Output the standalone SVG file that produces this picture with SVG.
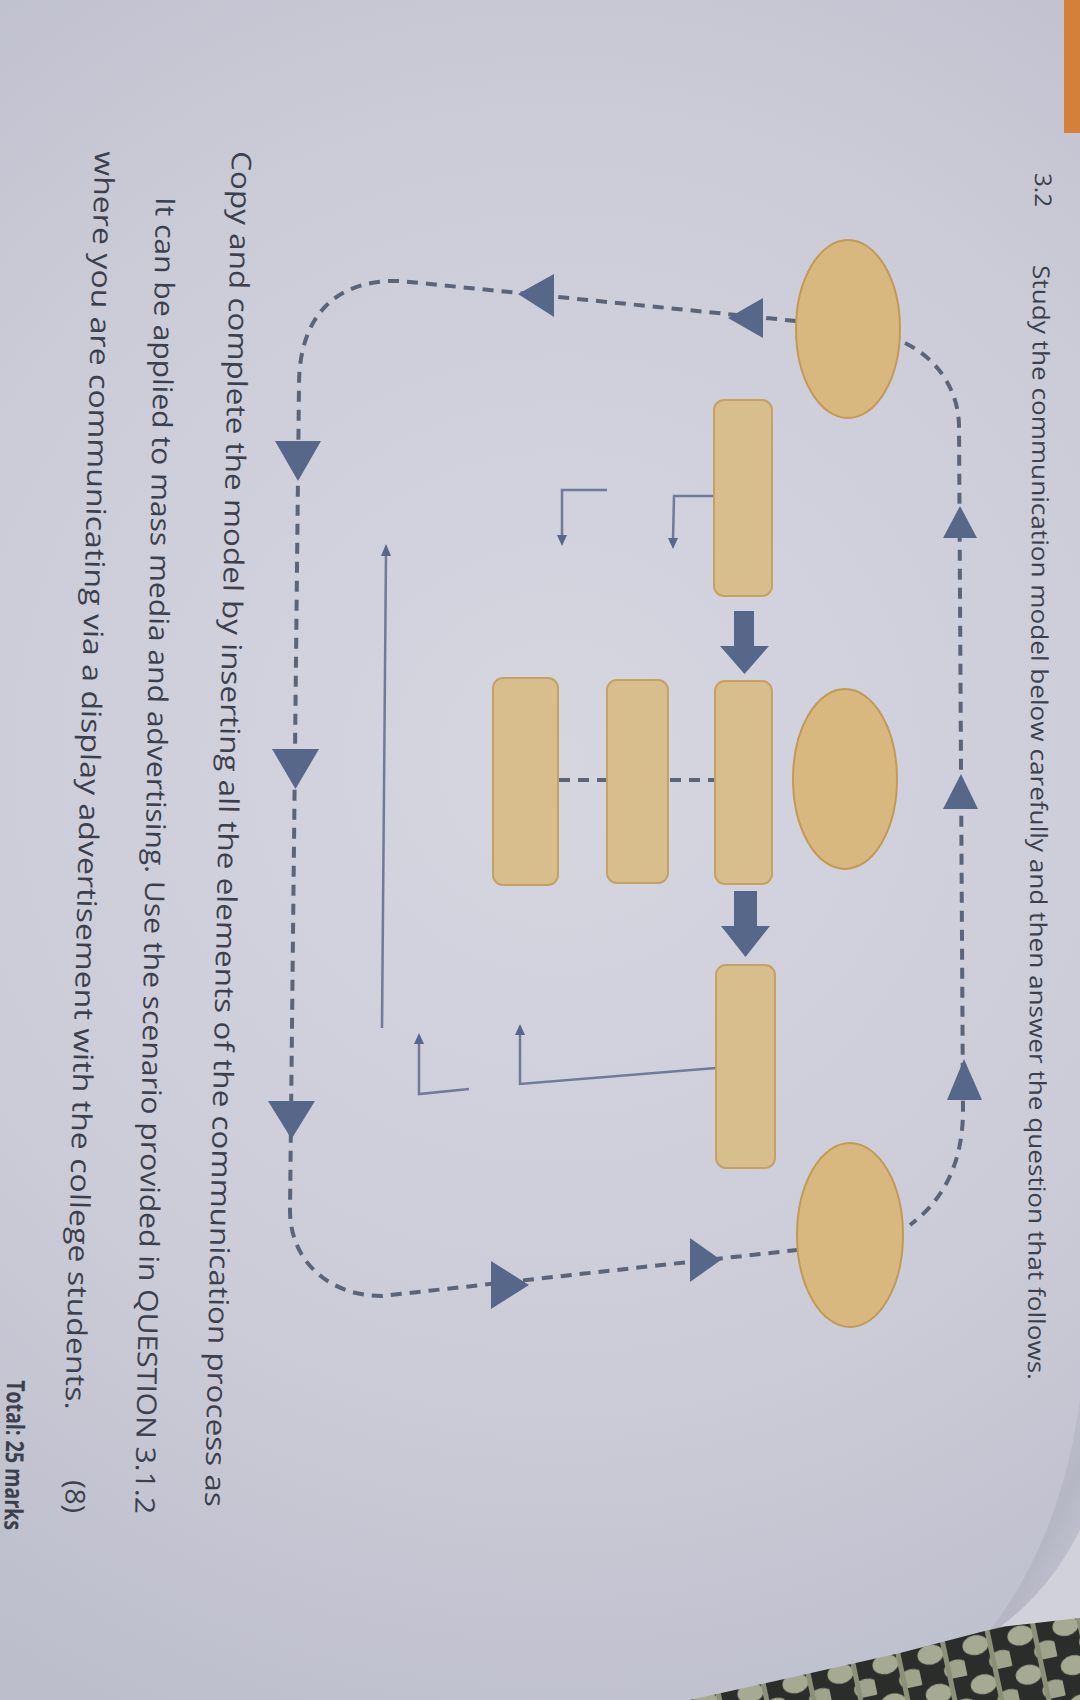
<svg xmlns="http://www.w3.org/2000/svg" width="1080" height="1700" viewBox="0 0 1080 1700">
<defs>
<radialGradient id="paper" cx="560" cy="760" r="1050" gradientUnits="userSpaceOnUse">
<stop offset="0" stop-color="#d5d6e0"/>
<stop offset="0.6" stop-color="#cbccd8"/>
<stop offset="1" stop-color="#bdbecb"/>
</radialGradient>
<linearGradient id="shade" x1="960" y1="1500" x2="1080" y2="1560" gradientUnits="userSpaceOnUse">
<stop offset="0" stop-color="#b8b9c6" stop-opacity="0"/>
<stop offset="0.7" stop-color="#b3b4c2" stop-opacity="0.8"/>
<stop offset="1" stop-color="#b3b4c2" stop-opacity="0"/>
</linearGradient>
<pattern id="wicker" x="0" y="0" width="46" height="40" patternUnits="userSpaceOnUse" patternTransform="rotate(-12)">
<rect width="46" height="40" fill="#2b2d2b"/>
<ellipse cx="14" cy="12" rx="13" ry="10" fill="#a7aa92"/>
<ellipse cx="37" cy="32" rx="13" ry="10" fill="#a0a38b"/>
<rect x="26" y="0" width="5" height="40" fill="#8d9079"/>
</pattern>
</defs>
<style>
.ell{fill:#d8b87e;stroke:#c39a55;stroke-width:2}
.box{fill:#d7be8c;stroke:#c5a264;stroke-width:2}
.dash{fill:none;stroke:#5b6479;stroke-width:4;stroke-dasharray:11 8}
.thin{fill:none;stroke:#717a98;stroke-width:2.5}
.head{fill:#57678a}
.txt{font-family:"Open Sans","Liberation Sans",sans-serif;fill:#3c3f4d}
</style>
<rect width="1080" height="1700" fill="url(#paper)"/>
<rect x="1064" y="0" width="16" height="133" fill="#d4803a"/>
<path d="M1080,1400 Q1060,1540 990,1630 L1080,1618 Z" fill="url(#shade)"/>
<path d="M1080,1530 Q1050,1590 1000,1627 L1080,1618 Z" fill="#d1d1db"/>
<path d="M690,1700 L900,1653 L1000,1627 L1080,1618 L1080,1700 Z" fill="url(#wicker)"/>

<g id="texts" class="txt">
<text transform="translate(1035,173) rotate(90.3)" font-size="23" textLength="34" lengthAdjust="spacingAndGlyphs">3.2</text>
<text transform="translate(1033,265) rotate(90.26)" font-size="23" textLength="1115" lengthAdjust="spacingAndGlyphs">Study the communication model below carefully and then answer the question that follows.</text>
<text transform="translate(232,151) rotate(91.14)" font-size="27" textLength="1356" lengthAdjust="spacingAndGlyphs">Copy and complete the model by inserting all the elements of the communication process as</text>
<text transform="translate(156,197) rotate(90.9)" font-size="27" textLength="1317" lengthAdjust="spacingAndGlyphs">It can be applied to mass media and advertising. Use the scenario provided in QUESTION 3.1.2</text>
<text transform="translate(95,151) rotate(91.35)" font-size="27" textLength="1259" lengthAdjust="spacingAndGlyphs">where you are communicating via a display advertisement with the college students.</text>
<text transform="translate(66,1480) rotate(91.3)" font-size="27" textLength="33" lengthAdjust="spacingAndGlyphs">(8)</text>
<text transform="translate(7,1380) rotate(91)" font-size="25" font-weight="bold" textLength="150" lengthAdjust="spacingAndGlyphs">Total: 25 marks</text>
</g>

<g id="connectors">
<path class="dash" d="M796,321 L400,281 C332,279 299,320 299,385 L290,1210 C290,1262 330,1296 382,1296 L797,1250"/>
<path class="dash" d="M905,343 C936,358 958,388 959,425 L963,1110 C963,1162 944,1200 910,1225"/>
<path class="dash" d="M670,780 L714,780"/>
<path class="dash" d="M559,780 L607,780"/>
<polygon class="head" points="728,318 763,298 763,338"/>
<polygon class="head" points="518,294 554,274 554,317"/>
<polygon class="head" points="298,481 275,441 321,441"/>
<polygon class="head" points="295.5,789 272,749 319,749"/>
<polygon class="head" points="291.5,1139 268,1101 315,1101"/>
<polygon class="head" points="529,1285 491,1261 491,1309"/>
<polygon class="head" points="721,1260 690,1238 690,1282"/>
<polygon class="head" points="960,506 943,538 977,538"/>
<polygon class="head" points="961,774 943,809 978,809"/>
<polygon class="head" points="964,1059 947,1100 982,1100"/>
<polygon class="head" points="734,611 754,611 754,646 769,646 744.5,674 720,646 734,646"/>
<polygon class="head" points="734,891 757,891 757,926 770,926 745.5,957 721,926 734,926"/>
<path class="thin" d="M714,496 L674,496 L673,541"/>
<polygon class="head" points="673,549 668,538 678,538"/>
<path class="thin" d="M607,490 L562,490 L562,538"/>
<polygon class="head" points="562,546 557,535 567,535"/>
<path class="thin" d="M382,1028 L386,552"/>
<polygon class="head" points="386,544 381,556 391,556"/>
<path class="thin" d="M716,1068 L520,1084 L520,1032"/>
<polygon class="head" points="520,1024 515,1035 525,1035"/>
<path class="thin" d="M469,1089 L419,1094 L419,1041"/>
<polygon class="head" points="419,1033 414,1044 424,1044"/>
</g>

<g id="node-ellipse-1"><ellipse class="ell" cx="848" cy="329" rx="52" ry="89"/></g>
<g id="node-ellipse-2"><ellipse class="ell" cx="845" cy="779" rx="52" ry="90"/></g>
<g id="node-ellipse-3"><ellipse class="ell" cx="850" cy="1235" rx="53" ry="92"/></g>
<g id="node-box-1"><rect class="box" x="714" y="400" width="58" height="196" rx="10"/></g>
<g id="node-box-2"><rect class="box" x="715" y="681" width="57" height="203" rx="10"/></g>
<g id="node-box-3"><rect class="box" x="607" y="680" width="61" height="203" rx="10"/></g>
<g id="node-box-4"><rect class="box" x="493" y="678" width="65" height="207" rx="10"/></g>
<g id="node-box-5"><rect class="box" x="716" y="965" width="59" height="203" rx="10"/></g>
</svg>
